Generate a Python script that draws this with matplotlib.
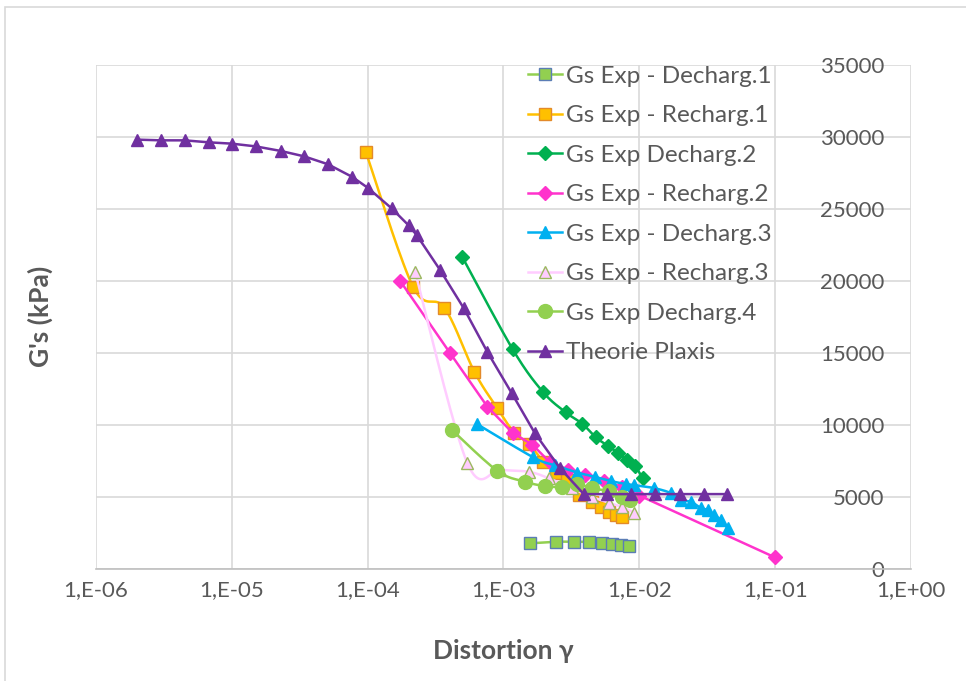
import numpy as np
from matplotlib import pyplot as plt
from matplotlib.ticker import FixedLocator

plt.rcParams['font.family'] = ['Lato', 'DejaVu Sans']

# distortion (-) and shear modulus G's (kPa) for each series
dech1_x = [1.56e-3, 2.42e-3, 3.3e-3, 4.27e-3, 5.35e-3, 6.34e-3, 7.3e-3, 8.4e-3]
dech1_y = [1780, 1890, 1890, 1890, 1830, 1735, 1665, 1620]

rech1_x = [9.7e-5, 2.16e-4, 3.67e-4, 6.1e-4, 8.95e-4, 1.2e-3, 1.53e-3, 1.97e-3,
           2.42e-3, 2.95e-3, 3.58e-3, 4.52e-3, 5.2e-3, 5.96e-3, 6.7e-3, 7.5e-3]
rech1_y = [28950, 19600, 18150, 13700, 11200, 9470, 8710, 7450,
           6700, 6180, 5140, 4670, 4320, 3980, 3750, 3630]

dech2_x = [4.96e-4, 1.17e-3, 1.95e-3, 2.87e-3, 3.81e-3, 4.78e-3, 5.9e-3, 7.0e-3,
           8.1e-3, 9.3e-3, 1.06e-2]
dech2_y = [21690, 15250, 12300, 10880, 10080, 9140, 8540, 8050,
           7560, 7150, 6290]

rech2_x = [1.74e-4, 4.06e-4, 7.6e-4, 1.17e-3, 1.63e-3, 2.2e-3, 3.0e-3, 4.0e-3,
           5.5e-3, 7.5e-3, 1.0e-2, 1.0e-1]
rech2_y = [19990, 14970, 11280, 9440, 8640, 7400, 6900, 6500,
           6100, 5700, 5100, 800]

dech3_x = [6.4e-4, 1.66e-3, 2.4e-3, 3.5e-3, 4.7e-3, 6.2e-3, 8.0e-3, 9.1e-3,
           1.28e-2, 1.71e-2, 2.02e-2, 2.4e-2, 2.84e-2, 3.19e-2, 3.55e-2,
           3.99e-2, 4.48e-2]
dech3_y = [10060, 7750, 7200, 6700, 6400, 6100, 5900, 5830,
           5620, 5270, 4790, 4670, 4230, 4100, 3750,
           3400, 2820]

rech3_x = [2.24e-4, 5.42e-4, 9.5e-4, 1.54e-3, 2.16e-3, 3.2e-3, 4.5e-3, 6.0e-3,
           7.5e-3, 9.2e-3]
rech3_y = [20600, 7350, 6900, 6750, 6300, 5600, 5000, 4600, 4300, 3900]

dech4_x = [4.18e-4, 9.0e-4, 1.43e-3, 2.01e-3, 2.7e-3, 3.5e-3, 4.5e-3, 6.0e-3,
           7.5e-3, 8.5e-3]
dech4_y = [9650, 6820, 6070, 5760, 5700, 5900, 5600, 5400, 5000, 4800]

plaxis_x = [2.0e-6, 3.0e-6, 4.5e-6, 6.8e-6, 1.0e-5, 1.5e-5, 2.3e-5, 3.4e-5,
            5.1e-5, 7.7e-5, 1.0e-4, 1.5e-4, 2.0e-4, 2.3e-4, 3.4e-4, 5.1e-4,
            7.6e-4, 1.15e-3, 1.7e-3, 2.6e-3, 3.9e-3, 5.8e-3, 8.7e-3, 1.3e-2,
            2.0e-2, 3.0e-2, 4.4e-2]
plaxis_y = [29820, 29770, 29770, 29630, 29540, 29350, 29030, 28660,
            28110, 27230, 26480, 25050, 23870, 23180, 20790, 18110,
            15080, 12210, 9440, 7010, 5200, 5200, 5200, 5200,
            5200, 5200, 5200]

xticks = [1e-6, 1e-5, 1e-4, 1e-3, 1e-2, 1e-1, 1e0]
xtick_labels = ['1,E-06', '1,E-05', '1,E-04', '1,E-03', '1,E-02', '1,E-01', '1,E+00']
yticks = [0, 5000, 10000, 15000, 20000, 25000, 30000, 35000]


def smooth(xs, ys, n=20):
    # excel-like smoothed line (catmull-rom) in screen-ish space: log x vs y
    u = np.log10(xs) * 135.5
    v = np.array(ys) * 0.0144
    pts = np.column_stack([u, v])
    pts = np.vstack([pts[0], pts, pts[-1]])
    out = []
    t = np.linspace(0, 1, n)[:, None]
    for i in range(1, len(pts) - 2):
        p0, p1, p2, p3 = pts[i - 1], pts[i], pts[i + 1], pts[i + 2]
        c1 = p1 + (p2 - p0) / 6
        c2 = p2 - (p3 - p1) / 6
        seg = ((1 - t) ** 3) * p1 + 3 * ((1 - t) ** 2) * t * c1 \
            + 3 * (1 - t) * t ** 2 * c2 + t ** 3 * p2
        out.append(seg)
    out = np.vstack(out)
    return 10 ** (out[:, 0] / 135.5), out[:, 1] / 0.0144


def series(xs, ys, label, color, marker, ms, mfc, mec, mew=1.0, smoothed=True):
    if smoothed:
        sx, sy = smooth(xs, ys)
    else:
        sx, sy = xs, ys
    ax.plot(sx, sy, color=color, lw=1.8)
    ax.plot(xs, ys, ls='none', marker=marker, ms=ms, mfc=mfc, mec=mec, mew=mew)
    handles.append(plt.Line2D([], [], color=color, lw=1.8, marker=marker, ms=ms,
                              mfc=mfc, mec=mec, mew=mew))
    labels.append(label)


fig = plt.figure(figsize=(9.66, 6.81), dpi=100)
ax = fig.add_axes([0.0994, 0.1645, 0.8436, 0.740])
handles, labels = [], []

series(dech1_x, dech1_y, 'Gs Exp - Decharg.1', '#92D050', 's', 8, '#92D050', '#5B7DB5')
series(rech1_x, rech1_y, 'Gs Exp - Recharg.1', '#FFC000', 's', 9, '#FFC000', '#E38A2A')
series(dech2_x, dech2_y, 'Gs Exp Decharg.2', '#00B050', 'D', 7, '#00B050', '#00B050')
series(rech2_x, rech2_y, 'Gs Exp - Recharg.2', '#FF33CC', 'D', 7, '#FF33CC', '#FF33CC',
       smoothed=False)
series(dech3_x, dech3_y, 'Gs Exp - Decharg.3', '#00B0F0', '^', 9, '#00B0F0', '#00B0F0')
series(rech3_x, rech3_y, 'Gs Exp - Recharg.3', '#FFCCFF', '^', 9, '#FFCCFF', '#9BB860')
series(dech4_x, dech4_y, 'Gs Exp Decharg.4', '#92D050', 'o', 10, '#92D050', '#92D050')
series(plaxis_x, plaxis_y, 'Theorie Plaxis', '#7030A0', '^', 8, '#7030A0', '#7030A0',
       smoothed=False)

ax.set_xscale('log')
ax.set_xlim(1e-6, 1e0)
ax.set_ylim(0, 35000)
ax.xaxis.set_major_locator(FixedLocator(xticks))
ax.xaxis.set_minor_locator(FixedLocator([]))
ax.set_xticklabels(xtick_labels)
ax.set_yticks(yticks)
ax.set_yticklabels([str(v) for v in yticks])

ax.grid(True, color='#D9D9D9', lw=1.2)
ax.set_axisbelow(True)
for s in ['top', 'left', 'right']:
    ax.spines[s].set_visible(False)
ax.spines['bottom'].set_color('#BFBFBF')
ax.spines['bottom'].set_linewidth(1.2)

ax.yaxis.tick_right()
ax.tick_params(axis='y', length=0, pad=-19, labelsize=16, labelcolor='#595959')
for lab in ax.get_yticklabels():
    lab.set_horizontalalignment('right')
ax.tick_params(axis='x', length=0, pad=8, labelsize=16, labelcolor='#595959')

ax.set_xlabel('Distortion γ', fontsize=19, fontweight='bold', color='#595959', labelpad=28)
fig.text(0.042, 0.535, "G's (kPa)", rotation=90, fontsize=19, fontweight='bold',
         color='#595959', ha='center', va='center')

ax.legend(handles, labels, loc='upper left', bbox_to_anchor=(0.518, 1.018), frameon=False,
          fontsize=17.5, labelcolor='#595959', handlelength=1.4,
          handletextpad=0.15, labelspacing=0.76, borderaxespad=0)

# outer chart border
fig.patches.append(plt.Rectangle((0.005, -0.1), 1.2, 1.09, transform=fig.transFigure,
                                 fill=False, ec='#D9D9D9', lw=1.2))

fig.savefig('out.png', dpi=100)
